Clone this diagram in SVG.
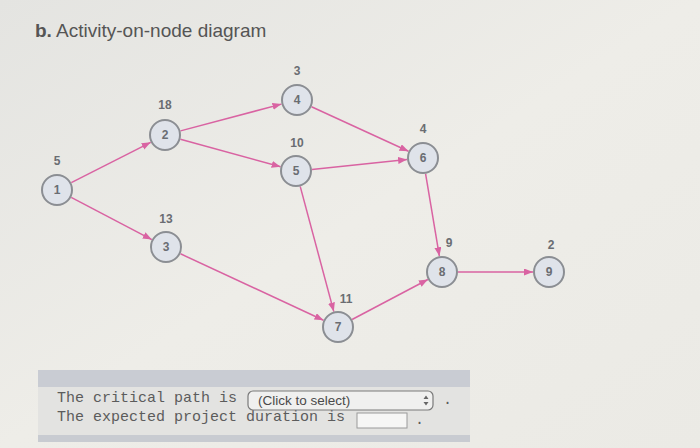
<svg xmlns="http://www.w3.org/2000/svg" width="700" height="448" viewBox="0 0 700 448">
<style>
.node circle{fill:#dfe3ea;stroke:#8b8e93;stroke-width:2}
.node text{font-family:"Liberation Sans",Arial,sans-serif;font-size:12px;font-weight:bold;fill:#6a6d72;text-anchor:middle}
.lbl{font-family:"Liberation Sans",Arial,sans-serif;font-size:13px;font-weight:bold;fill:#707070;text-anchor:middle}
#edges line{stroke:#d963a2;stroke-width:1.5;marker-end:url(#ah)}
.mono{font-family:"Liberation Mono","Courier New",monospace;font-size:15px;fill:#5c5c5c}
</style>
<defs>
<linearGradient id="bg" x1="0" y1="0" x2="1" y2="1">
<stop offset="0" stop-color="#e4e4e1"/>
<stop offset="0.5" stop-color="#eeede8"/>
<stop offset="1" stop-color="#ebeae5"/>
</linearGradient>
<marker id="ah" markerUnits="userSpaceOnUse" markerWidth="10" markerHeight="8" refX="9" refY="3.5" orient="auto">
<path d="M0,0 L9,3.5 L0,7 z" fill="#d963a2"/>
</marker>
</defs>
<rect width="700" height="448" fill="url(#bg)"/>
<text x="35" y="37" font-family="'Liberation Sans',Arial,sans-serif" font-size="19" fill="#555"><tspan font-weight="bold">b.</tspan> Activity-on-node diagram</text>

<g id="edges">
<line x1="71.3" y1="182.7" x2="150.7" y2="142.3"/>
<line x1="71.2" y1="197.4" x2="151.8" y2="239.6"/>
<line x1="180.5" y1="130.9" x2="281.5" y2="104.1"/>
<line x1="180.4" y1="139.2" x2="280.6" y2="166.8"/>
<line x1="311.5" y1="106.7" x2="408.5" y2="151.3"/>
<line x1="311.9" y1="169.4" x2="407.1" y2="159.6"/>
<line x1="300.2" y1="186.4" x2="333.8" y2="311.6"/>
<line x1="180.5" y1="253.8" x2="323.5" y2="320.2"/>
<line x1="425.6" y1="173.8" x2="439.4" y2="256.2"/>
<line x1="352.1" y1="319.5" x2="427.9" y2="279.5"/>
<line x1="458" y1="272" x2="533" y2="272"/>
</g>

<g id="node1" class="node"><text class="lbl" x="57" y="165">5</text><circle cx="57" cy="190" r="15"/><text x="57" y="194">1</text></g>
<g id="node2" class="node"><text class="lbl" x="165" y="109">18</text><circle cx="165" cy="135" r="15"/><text x="165" y="139">2</text></g>
<g id="node3" class="node"><text class="lbl" x="166" y="223">13</text><circle cx="166" cy="247" r="15"/><text x="166" y="251">3</text></g>
<g id="node4" class="node"><text class="lbl" x="297" y="75">3</text><circle cx="297" cy="100" r="15"/><text x="297" y="104">4</text></g>
<g id="node5" class="node"><text class="lbl" x="297" y="147">10</text><circle cx="296" cy="171" r="15"/><text x="296" y="175">5</text></g>
<g id="node6" class="node"><text class="lbl" x="423" y="133">4</text><circle cx="423" cy="158" r="15"/><text x="423" y="162">6</text></g>
<g id="node7" class="node"><text class="lbl" x="346" y="303">11</text><circle cx="338" cy="327" r="15"/><text x="338" y="331">7</text></g>
<g id="node8" class="node"><text class="lbl" x="449" y="247">9</text><circle cx="442" cy="272" r="15"/><text x="442" y="276">8</text></g>
<g id="node9" class="node"><text class="lbl" x="551" y="249">2</text><circle cx="549" cy="272" r="15"/><text x="549" y="276">9</text></g>

<g id="panel">
<rect x="38" y="387" width="432" height="48" fill="#e3e3e1"/>
<rect x="38" y="370" width="432" height="17" fill="#c9ccd3"/>
<rect x="38" y="435" width="432" height="7" fill="#c8cbd1"/>
<text class="mono" x="57" y="402">The critical path is</text>
<text class="mono" x="57" y="421">The expected project duration is</text>
<rect x="248" y="391" width="185" height="19" rx="5" fill="#f0f0ef" stroke="#7a7a7a" stroke-width="1.2"/>
<text x="258" y="405" font-family="'Liberation Sans',Arial,sans-serif" font-size="13.5" fill="#4a4a4a">(Click to select)</text>
<path d="M423.5,399 L426,395.5 L428.5,399 z M423.5,402 L426,405.5 L428.5,402 z" fill="#666"/>
<text class="mono" x="443" y="404">.</text>
<rect x="357" y="413" width="50" height="15" fill="#f6f6f5" stroke="#9a9a9a" stroke-width="1"/>
<text class="mono" x="415" y="424">.</text>
</g>
</svg>
